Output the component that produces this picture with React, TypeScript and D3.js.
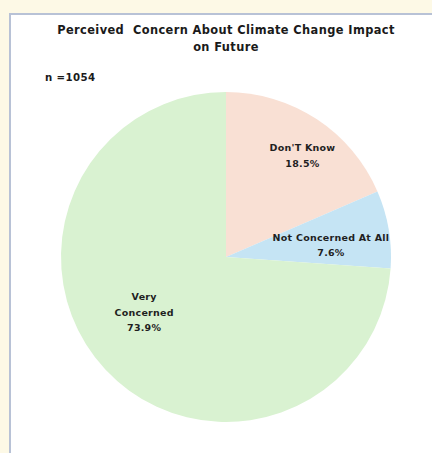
import React from "react";
import * as d3 from "d3";

const categories = ["Don'T Know", "Not Concerned At All", "Very Concerned"];
const shares = [18.5, 7.6, 73.9];
const labelLines = [["Don'T Know"], ["Not Concerned At All"], ["Very", "Concerned"]];
const sliceColors = ["#f9e0d4", "#c5e4f4", "#d9f2d1"];
const titleLines = ["Perceived  Concern About Climate Change Impact", "on Future"];
const sampleNote = "n =1054";

const W = 432;
const H = 453;
const cx = 226;
const cy = 257;
const radius = 165;
const font = "'DejaVu Sans', 'Liberation Sans', Arial, sans-serif";

// label placement: fraction of the radius, and a nudge (degrees) off each slice's mid-angle
const labelRadius = [0.77, 0.64, 0.6];
const labelTurn = [3.7, 3.4, 8.8];

export default function App() {
  const data = categories.map((c, i) => ({ name: c, value: shares[i], i }));
  const pie = d3.pie<any>().value((d) => d.value).sort(null);
  const arcs = pie(data);
  const arcGen = d3.arc<any>().innerRadius(0).outerRadius(radius);

  return (
    <svg
      width={W}
      height={H}
      style={{ position: "fixed", left: 0, top: 0, display: "block" }}
    >
      <rect x={0} y={0} width={W} height={H} fill="#fdf9e6" />
      <rect x={10} y={14} width={W + 20} height={H + 20} fill="#ffffff" stroke="#b8c2d6" strokeWidth={2} />
      {titleLines.map((t, k) => (
        <text
          key={k}
          x={cx}
          y={34 + k * 16.5}
          textAnchor="middle"
          fontFamily={font}
          fontWeight={700}
          fontSize={11.4}
          letterSpacing={0.4}
          fill="#1a1a1a"
          style={{ whiteSpace: "pre" }}
        >
          {t}
        </text>
      ))}
      <text x={45} y={81} fontFamily={font} fontWeight={700} fontSize={10.2} letterSpacing={0.4} fill="#1a1a1a">
        {sampleNote}
      </text>
      <g transform={`translate(${cx},${cy})`}>
        {arcs.map((a, i) => (
          <path key={i} d={arcGen(a) || ""} fill={sliceColors[i]} />
        ))}
        {arcs.map((a, i) => {
          const mid = (a.startAngle + a.endAngle) / 2 + (labelTurn[i] * Math.PI) / 180;
          const r = radius * labelRadius[i];
          const x = Math.sin(mid) * r;
          const y = -Math.cos(mid) * r;
          const lines = [...labelLines[i], `${shares[i].toFixed(1)}%`];
          const lh = 15.5;
          const y0 = y - ((lines.length - 1) * lh) / 2;
          return (
            <g key={i}>
              {lines.map((l, k) => (
                <text
                  key={k}
                  x={x}
                  y={y0 + k * lh}
                  dy="0.35em"
                  textAnchor="middle"
                  fontFamily={font}
                  fontWeight={700}
                  fontSize={9.5}
                  letterSpacing={0.25}
                  fill="#1f1f1f"
                >
                  {l}
                </text>
              ))}
            </g>
          );
        })}
      </g>
    </svg>
  );
}
